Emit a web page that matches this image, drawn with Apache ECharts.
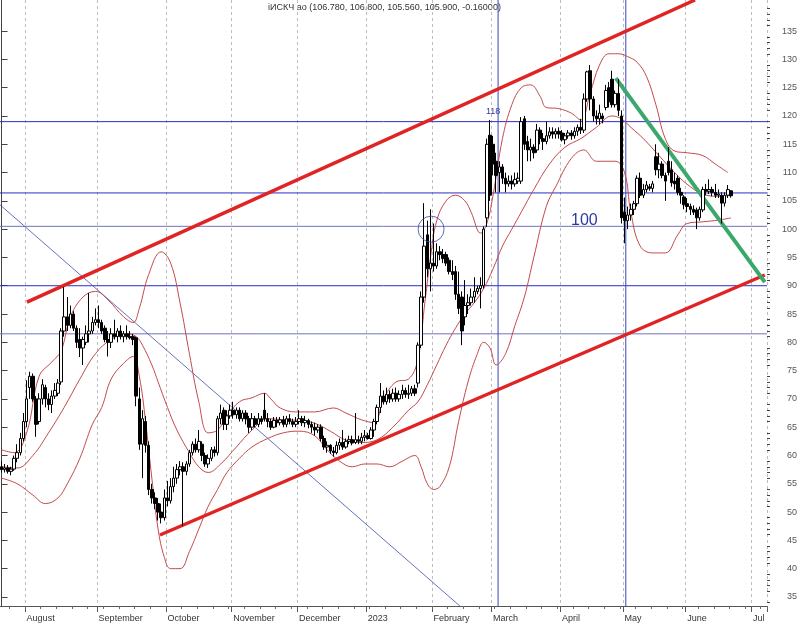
<!DOCTYPE html>
<html><head><meta charset="utf-8">
<script src="https://cdn.jsdelivr.net/npm/echarts@6/dist/echarts.min.js"></script>
<style>html,body{margin:0;padding:0;background:#fff}#c{width:800px;height:626px}</style>
</head><body><div id="c"></div>
<script>
const titleText = 'iИСКЧ ао (106.780, 106.800, 105.560, 105.900, -0.16000)';
const slotCount = 245;
const monthStarts = [8, 31, 53, 74, 95, 117, 138, 157, 179, 199, 219, 240];
const monthLabels = ['August', 'September', 'October', 'November', 'December', '2023', 'February', 'March', 'April', 'May', 'June', 'Jul'];
const yTicks = [35, 40, 45, 50, 55, 60, 65, 70, 75, 80, 85, 90, 95, 100, 105, 110, 115, 120, 125, 130, 135];
// [open, close, low, high]
const candles = [
[58,57.5,57,59],[57.5,57.8,57,58.5],[57.8,57.2,56.8,58.3],[57.2,57.6,56.5,58],[57.6,59.5,57.3,60],
[59.5,60.5,58.8,62],[60.5,63,60,64],[63,66,62.5,67.5],[66,70,65,73.3],[72,74,70,74.8],
[74,70,69.5,74.5],[70,65.5,63.3,70.5],[66,70,65.5,71],[70,72.5,69,73.5],[72,70,68.5,72.5],
[70,69,68,71],[69,70.5,67.5,71.5],[70.5,71.5,70,72.8],[71,72.8,70.5,73.5],[73,82,72.5,82.5],
[82,84.5,81,89.8],[84.5,83,82,88],[83,85,82.5,86.5],[85,82.5,82,85.5],[82.5,80,79,83],
[80.5,79,77.4,82.5],[79,80.5,76,81],[80,81.5,79.5,83],[81.5,82,80,88.7],[82,83.5,81.5,84.5],
[83.5,84,83,86],[84,83.5,82.5,86.5],[83.5,82,81.5,84],[82.5,80.5,80,83],[80.5,80,77.5,82],
[80,81.5,79,82.5],[81.5,81,80.5,84],[81,82,80,82.5],[82,81,80.5,83],[81,81.5,80,82],
[81.5,81,80.5,83],[81,80.8,80.5,82],[81,80.5,79.5,81.5],[80.8,70.5,68.7,81],[70,62,61,72],
[62,66.5,56,68],[66,61.8,60.5,67],[61.8,54,53,62.5],[54,52.5,51.5,55],[52.5,51.5,50.5,53.5],
[51.5,50,48.5,52.5],[50,49,48,51.5],[49,52.5,48.5,54],[52.5,52,51,55.5],[52,54.5,51.5,56],
[54.5,56,53.5,58],[56,57.5,55,58.5],[57.5,58,56.5,59],[58,57.2,47.5,58.8],[57.2,58.5,56.5,59],
[58.5,60.5,58,61],[60.5,62,60,62.5],[62,61,60.5,63],[61,62.5,60.5,64.5],[62,60,59,62.5],
[60,58.5,58,60.5],[58.5,59.5,57.8,60.2],[59.5,61,59,61.5],[61,60.5,59.8,61.6],[60.5,66.5,60,67],
[66.5,67.5,65.5,69],[68,65.5,64.5,68.5],[65.5,67,64.5,68],[67,68,66.5,69],[68,67.2,66.5,69.5],
[67.2,68,66.5,68.5],[68,66.5,66,68.5],[66.5,67.5,66,68],[67.5,66.5,65.5,68],[66.5,65,64,67],
[65,66.5,64.5,67.5],[66.5,65.5,65,67],[65.5,66.5,65,67.5],[66.5,66,65.5,67],[68,66.5,66,71],
[66.5,66,65,67.5],[66,65,64.5,66.5],[65,66.2,64.8,66.8],[66.2,65.8,65,66.8],[65.8,66.3,65.3,66.8],
[66.3,65.5,65,67],[65.5,66.5,65,67],[66.5,66,65.5,67.3],[66,65.5,65,66.5],[65.5,66,65,66.8],
[66,66.5,65.5,68],[66.5,65.8,65.2,67],[65.8,66.2,65,67],[66.2,65.5,64.8,66.5],[65.5,65,64,66],
[65,64.5,63.5,65.8],[64.5,65,64,65.5],[65,63,62.5,65.5],[63,61.5,61,63.5],[61.5,61.8,60.5,62.5],
[61.8,60.8,60.3,62],[60.8,60.5,59.8,61.5],[60.5,61.8,60.2,62.5],[61.8,62.3,61,63],[62.3,61.5,61,64.5],
[61.5,62.5,61.2,63],[62.5,62.8,62,63.5],[62.8,62.2,61.8,63.5],[62.3,62.8,62,67.5],[62.8,62.5,62,63.5],
[62.5,63.2,62,64],[63.2,63.5,62.5,64.5],[63.5,63,62.8,64],[63,64.5,62.8,65],[64.5,66,63.3,66.5],
[66,68.5,65.5,69],[68.5,70.5,67.5,72.8],[70.5,69.5,69,71.5],[69.5,70.8,69,72],[70.8,70,69.3,71.5],
[70,71,69.5,71.8],[71,70,69.5,72],[70,70.8,69.5,71.5],[70.8,71.5,70,72.5],[71.5,70.8,70.2,72],
[70.8,71,70,72.5],[71,71.8,70.5,72.3],[71.8,71,70.5,72.5],[72.8,79.5,72,80],[79.5,88,79,89],
[88,97,87,104.6],[99,93,91.5,101.5],[93,94,89,103.5],[94,93.5,92.5,101],[93.5,96,93,97.5],
[96,95.5,94.5,97],[95.5,94.8,94,96.5],[95.5,94,93.5,96],[94.5,92.5,92,95],[92.5,92,91,94.5],
[92.5,88.5,87.5,93.5],[88.5,86,85,92.5],[88,82,79.5,89],[84.5,86.5,83,91],[86.5,87,85,88.5],
[87,88,86.5,89.5],[88,89,87,91.5],[89,89.5,88.5,90],[89.5,90,86,91.5],[90,100,89.5,100.5],
[102,115,100.4,116],[116.6,106,105,119.3],[115,111.5,109.5,116.5],[112,109.5,106.5,113.5],[110,111,106.5,112],
[111,109,108,111.5],[109,108,106.5,110],[108,108.5,107.5,109.5],[108.5,108,107,109.5],[108,108.8,107.5,110],
[108.5,109,108,110],[108.5,119,108,119.8],[119.5,115,114,120],[115.5,114,112,116.5],[114,114.5,112,116],
[114.5,113.5,112.5,115],[114,117.5,113.5,118.6],[117.5,116,115,118],[116,115.5,114,117],[115.5,116.5,115,119],
[116.5,117.2,116,118],[117.2,116.8,116,118],[116.8,117.3,116,117.8],[117.3,116.8,116,118],[117,115.8,115.5,117.5],
[115.8,116.5,115,117],[116.5,117,116,117.5],[117,116.5,115.8,117.5],[116.5,117.3,116,118],[117.3,118,116.5,118.5],
[118,117.5,116.8,119.5],[117.5,123,117,124],[123,127.8,122.5,128],[128,123,121,129],[123,120,119,123.5],
[120,119.5,118.5,121],[119.5,120.5,118.5,122],[120,119.5,118.7,120.5],[121.5,124.5,121,125.5],[125,122.5,121.5,126],
[126.5,122,121.5,128],[122,124,121.5,124.5],[124,121,120,126.5],[120,102,101,121],[103,101.5,97.5,105.6],
[101.5,102.5,100,104],[102.5,103.5,101.5,104.5],[103.5,104.5,102.5,105],[104.5,109,104,109.5],[109,106,105.5,110],
[106,107,105.5,108],[107,107.8,106.5,108.5],[107.5,107.2,106.8,108],[107.2,108,106.5,108.5],[112.8,110.5,109.5,115],
[110.5,111.5,109,113.5],[111.5,109.5,109,112],[109.5,108.5,105,110],[112,110,109.5,114.5],[110.5,108.2,107.5,112],
[108.5,108,107,110],[109,106.5,106,109.5],[106.5,106,104.5,107.3],[105.7,104.3,103.5,106],[104.5,104,103,105.5],
[104,103.5,102.5,104.5],[103.5,103,102.5,104.2],[103.4,102,100,103.8],[102,103.5,101.5,104],[103.4,107,103,107.5],
[107,106.7,106,108],[106.7,107,106.2,108.8],[107,106.5,105.8,107.5],[106.5,106,105.5,108],[106,106.2,105.5,107],
[106,104.6,101,106.5],[104.6,106,104,106.5],[106,107,105.5,107.8],[106.78,105.9,105.56,106.8]
];
// Bollinger band readings: [slot index, price]
const upperBand = [[0,61],[4,60.5],[8,64],[12,74],[16,76.5],[19,78.5],[22,84.5],[26,88],[30,89],[34,87.5],[39,84.5],[42,83.5],[44,86],[47,92],[51,96],[54,94],[57,87],[60,78],[63,69.5],[66,64],[69,64.5],[72,67],[76,69.5],[80,70.2],[84,71],[86,70],[89,68.4],[94,67.7],[100,67.7],[106,68.4],[110,67.5],[115,66.3],[119,65.8],[122,70],[126,73],[130,73.5],[133,77],[135,86],[137,95],[139,101.5],[142,105],[145,106],[148,105],[150,103],[153,99.3],[155,101],[157,106],[160,116],[163,122],[166,125],[169,125.5],[172,123.5],[174,121.5],[178,121.3],[182,120.5],[185,119.3],[188,124],[191,129],[194,131],[197,131],[200,130.5],[203,129.5],[206,127],[209,122],[212,116],[215,113.8],[219,113.5],[224,113],[228,111.5],[232,110]];
const middleBand = [[0,58],[5,57.8],[10,60],[15,64],[20,68.5],[25,73.5],[30,78],[35,80.5],[40,81.5],[43,81],[45,79.5],[48,76],[50,73],[53,68.5],[56,64.5],[60,60.5],[63,58],[66,57],[70,58.5],[75,61.5],[80,64.5],[85,66.5],[90,66.3],[95,66.2],[100,65.7],[105,64.3],[110,62.7],[115,62.3],[120,62.8],[125,65],[130,68],[133,69.5],[136,72.5],[139,76],[142,79.5],[145,82.5],[148,85],[151,87],[154,89.5],[157,93],[160,97],[163,100],[166,103],[170,107],[175,111.5],[180,114.5],[185,116],[190,118],[195,120],[198,119.5],[201,118],[205,116],[210,113],[215,110],[220,107.5],[225,106],[230,105.8],[233,106]];
const lowerBand = [[0,56],[5,55],[10,53],[14,51.5],[18,52.5],[21,55],[25,59.5],[29,65.5],[32,68.5],[35,73.5],[39,76.3],[42,77.5],[44,74],[46,66],[48,56],[50,47],[52,42],[54,40],[57,40],[60,43],[63,47],[66,51],[69,54],[72,57],[76,59.5],[80,61.5],[85,63],[90,64],[95,64.3],[100,63.5],[104,61],[108,59],[112,58],[116,58.5],[120,58.5],[124,58],[128,59],[132,60],[134,58],[136,55],[138,54],[140,54.5],[143,58],[146,66],[149,73],[152,78],[154,80],[156,79],[158,76],[161,78],[164,83],[167,88],[170,95],[174,104],[177,107.5],[182,112.5],[186,114],[190,112],[196,112],[199,110],[201,103],[204,97],[208,95.8],[212,95.8],[216,99],[219,101],[224,101.3],[229,101.6],[233,102]];
// drawn trend lines, [slot index, price]
const channelTop = [[8.1,87.1],[221.5,140.5]];
const channelBottom = [[50.6,45.95],[243.8,91.9]];
const greenLine = [[196.2,126.7],[243.8,90.65]];
const blueDiagonal = [[-0.5,104.3],[146.4,33.4]];
const levelsDark = [119, 106.4, 90];
const levelsLight = [100.5, 81.5];
const verticalMarks = [158.6, 199.4];
const circleMark = [[137.2, 100]];

const monthSet = new Set(monthStarts);
const labelMap = {};
monthStarts.forEach((s, k) => { labelMap[s] = monthLabels[k]; });
const categories = [];
for (let i = 0; i < slotCount; i++) categories.push(String(i));
const minorY = [];
for (let v = 34; v <= 140; v++) if (v % 5 !== 0) minorY.push(v);

const FONT = 'Liberation Sans, Arial, sans-serif';
const chart = echarts.init(document.getElementById('c'), null, {renderer: 'canvas'});
const bandColor = '#c44a4a';
const lineSeries = (data, color, width, z) => ({type: 'line', xAxisIndex: 2, yAxisIndex: 0, data, symbol: 'none', silent: true, lineStyle: {color, width}, z: z || 5});
const xMin = -0.5, xMax = slotCount - 0.5, yMin = 33.4, yMax = 140.5;
const hLine = (v, color) => lineSeries([[xMin, v], [xMax, v]], color, 1, 3);
const vLine = (v, color) => lineSeries([[v, yMin], [v, yMax]], color, 1, 3);

chart.setOption({
  animation: false,
  backgroundColor: '#ffffff',
  grid: {left: 0, right: 33, top: 0, bottom: 20, containLabel: false},
  xAxis: [
    {type: 'category', data: categories, boundaryGap: true,
     axisLine: {show: true, lineStyle: {color: '#555', width: 1}},
     axisTick: {show: true, interval: (i) => monthSet.has(i), length: 6, lineStyle: {color: '#555'}},
     axisLabel: {interval: (i) => monthSet.has(i), formatter: (v, i) => labelMap[i] || '', align: 'left', fontSize: 9, color: '#333', margin: 8, fontFamily: FONT},
     splitLine: {show: true, interval: (i) => monthSet.has(i), lineStyle: {type: [3, 3], color: '#bdbdbd', width: 1}}},
    {type: 'category', data: categories, boundaryGap: true, position: 'bottom',
     axisLine: {show: false}, axisTick: {show: true, interval: (i) => i % 5 === 3, length: 3, lineStyle: {color: '#666'}},
     axisLabel: {show: false}, splitLine: {show: false}},
    {type: 'value', min: xMin, max: xMax, show: false}
  ],
  yAxis: [
    {type: 'value', position: 'right', min: yMin, max: yMax, scale: true,
     axisLine: {show: true, lineStyle: {color: '#444'}},
     axisTick: {show: true, customValues: yTicks, length: 6, lineStyle: {color: '#444'}},
     axisLabel: {customValues: yTicks, fontSize: 9, color: '#555', margin: 30, align: 'right', fontFamily: FONT},
     splitLine: {show: false}},
    {type: 'value', position: 'right', min: yMin, max: yMax,
     axisLine: {show: false},
     axisTick: {show: true, customValues: minorY, length: 3, lineStyle: {color: '#444'}},
     axisLabel: {show: false}, splitLine: {show: false}}
  ],
  series: [].concat(
    levelsDark.map(v => hLine(v, '#2a2ec2')),
    levelsLight.map(v => hLine(v, '#7074bb')),
    verticalMarks.map(v => vLine(v, '#3a45b8')),
    [
    lineSeries(blueDiagonal, '#3d4ea6', 0.8),
    Object.assign(lineSeries(upperBand, bandColor, 1), {smooth: 0.4}),
    Object.assign(lineSeries(middleBand, bandColor, 1), {smooth: 0.4}),
    Object.assign(lineSeries(lowerBand, bandColor, 1), {smooth: 0.4}),
    {type: 'candlestick', xAxisIndex: 0, yAxisIndex: 0, data: candles.map(c => [c[0], c[1], c[2], c[3]]),
     barWidth: 3, silent: true, z: 6,
     itemStyle: {color: '#ffffff', color0: '#000000', borderColor: '#000000', borderColor0: '#000000', borderWidth: 1}},
    lineSeries(channelTop, '#e02424', 3.5),
    lineSeries(channelBottom, '#e02424', 3.5),
    lineSeries(greenLine, '#3aa86c', 4),
    {type: 'scatter', xAxisIndex: 2, yAxisIndex: 0, data: circleMark, symbol: 'circle', symbolSize: 26, silent: true, z: 7,
     itemStyle: {color: 'rgba(0,0,0,0)', borderColor: '#3b46a6', borderWidth: 1}}
    ]),
  graphic: [
    {type: 'text', left: 268, top: 3, style: {text: titleText, font: '9px ' + FONT, fill: '#333'}},
    {type: 'text', left: 571, top: 213, style: {text: '100', font: '16px ' + FONT, fill: '#2b3aa0'}},
    {type: 'text', left: 486, top: 107, style: {text: '118', font: '9px ' + FONT, fill: '#2b3aa0'}}
  ]
});
</script></body></html>
